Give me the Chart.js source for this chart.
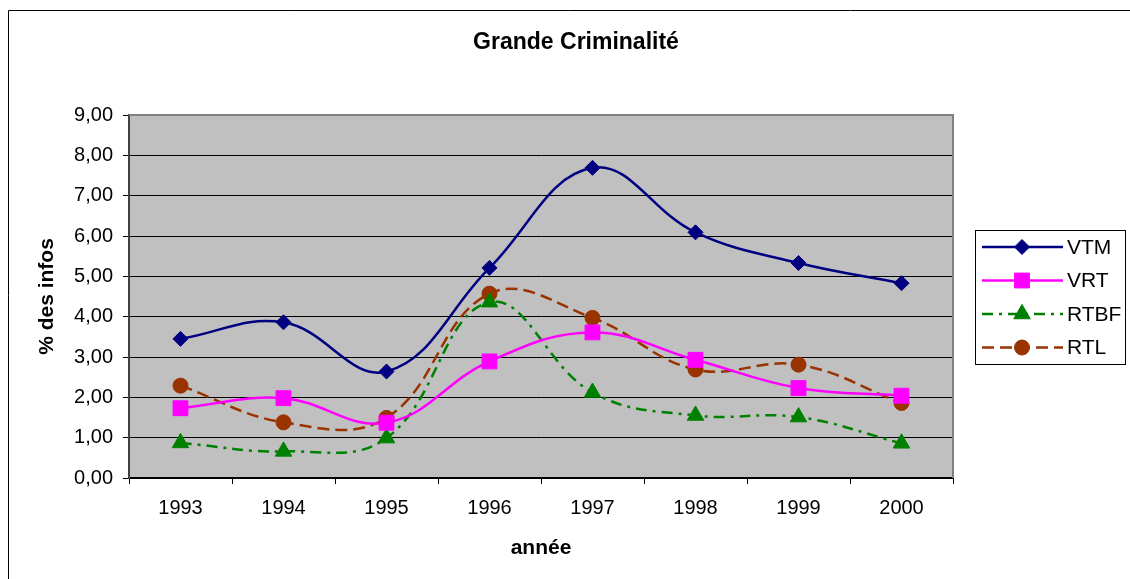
<!DOCTYPE html>
<html>
<head>
<meta charset="utf-8">
<title>Grande Criminalité</title>
<script src="https://cdn.jsdelivr.net/npm/chart.js@4/dist/chart.umd.min.js"></script>
<style>
  html, body { margin: 0; padding: 0; background: #fff; }
  #wrap { position: relative; width: 1130px; height: 579px; }
</style>
</head>
<body>
<div id="wrap"><canvas id="chart" width="1130" height="579"></canvas></div>
<script>
// data
const years = ['1993', '1994', '1995', '1996', '1997', '1998', '1999', '2000'];
const vtm  = [3.45, 3.86, 2.64, 5.21, 7.69, 6.09, 5.33, 4.83];
const vrt  = [1.73, 1.98, 1.37, 2.89, 3.61, 2.93, 2.23, 2.04];
const rtbf = [0.87, 0.66, 0.99, 4.36, 2.12, 1.55, 1.51, 0.86];
const rtl  = [2.29, 1.38, 1.49, 4.57, 3.97, 2.69, 2.81, 1.86];
const yTicks = [0, 1, 2, 3, 4, 5, 6, 7, 8, 9];

const FONT = '"Liberation Sans", Arial, sans-serif';

const series = [
  { label: 'VTM',  data: vtm,  color: '#000080', style: 'rectRot',  radius: 7.5,  dash: [] },
  { label: 'VRT',  data: vrt,  color: '#FF00FF', style: 'rect',     radius: 10.5, dash: [] },
  { label: 'RTBF', data: rtbf, color: '#008000', style: 'triangle', radius: 9.5,  dash: [11, 6, 3, 6] },
  { label: 'RTL',  data: rtl,  color: '#993300', style: 'circle',   radius: 7.5,  dash: [12, 6] }
];

// grey plot area, its border, the outer frame, title and legend
const excelLook = {
  id: 'excelLook',
  beforeDraw(chart) {
    const { ctx, chartArea: a } = chart;
    ctx.save();
    ctx.fillStyle = '#C0C0C0';
    ctx.fillRect(a.left, a.top, a.right - a.left, a.bottom - a.top);
    ctx.restore();
  },
  beforeDatasetsDraw(chart) {
    const { ctx, chartArea: a } = chart;
    ctx.save();
    ctx.strokeStyle = '#808080';
    ctx.lineWidth = 2;
    ctx.beginPath();
    ctx.moveTo(a.left, a.top);
    ctx.lineTo(a.right, a.top);
    ctx.lineTo(a.right, a.bottom);
    ctx.stroke();
    ctx.restore();
  },
  afterDraw(chart) {
    const ctx = chart.ctx;
    ctx.save();
    // outer frame
    ctx.strokeStyle = '#000';
    ctx.lineWidth = 1;
    ctx.beginPath();
    ctx.moveTo(8.5, 600);
    ctx.lineTo(8.5, 10.5);
    ctx.lineTo(1140, 10.5);
    ctx.stroke();

    // title
    ctx.fillStyle = '#000';
    ctx.font = 'bold 23px ' + FONT;
    ctx.textAlign = 'center';
    ctx.textBaseline = 'middle';
    ctx.fillText('Grande Criminalité', 576, 43);

    // legend
    ctx.strokeStyle = '#000';
    ctx.strokeRect(975.5, 230.5, 150, 134);
    ctx.font = '21px ' + FONT;
    ctx.textAlign = 'left';
    series.forEach((s, i) => {
      const y = 247 + i * 33.5;
      ctx.strokeStyle = s.color;
      ctx.lineWidth = 2.5;
      ctx.setLineDash(s.dash);
      ctx.beginPath();
      ctx.moveTo(982, y);
      ctx.lineTo(1063, y);
      ctx.stroke();
      ctx.setLineDash([]);
      ctx.fillStyle = s.color;
      ctx.lineWidth = 1;
      Chart.helpers.drawPoint(ctx, { pointStyle: s.style, radius: s.radius, rotation: 0, borderWidth: 1 }, 1022, y);
      ctx.fillStyle = '#000';
      ctx.fillText(s.label, 1067, y + 1);
    });
    ctx.restore();
  }
};

new Chart(document.getElementById('chart'), {
  type: 'line',
  data: {
    labels: years,
    datasets: series.map(s => ({
      label: s.label,
      data: s.data,
      borderColor: s.color,
      backgroundColor: s.color,
      borderWidth: 2.5,
      borderDash: s.dash,
      tension: 0.4,
      fill: false,
      pointStyle: s.style,
      pointRadius: s.radius,
      pointBorderWidth: 1,
      pointBackgroundColor: s.color,
      pointBorderColor: s.color
    }))
  },
  options: {
    responsive: false,
    animation: false,
    layout: { padding: { left: 0, top: 115, right: 177, bottom: 0 } },
    plugins: {
      legend: { display: false },
      title: { display: false },
      tooltip: { enabled: false }
    },
    scales: {
      x: {
        type: 'category',
        offset: true,
        afterFit: s => { s.height = 101; },
        grid: { offset: true, drawOnChartArea: false, drawTicks: true, tickLength: 6, color: '#000' },
        border: { color: '#000', width: 2 },
        ticks: { color: '#000', padding: 12, font: { family: FONT, size: 20 }, maxRotation: 0 },
        title: { display: true, text: 'année', color: '#000', font: { family: FONT, size: 21, weight: 'bold' }, padding: { top: 0, bottom: 18 } }
      },
      y: {
        min: 0,
        max: 9,
        afterFit: s => { s.width = 129; },
        afterBuildTicks: s => { s.ticks = yTicks.map(v => ({ value: v })); },
        grid: { color: '#000', lineWidth: 1, tickLength: 6, drawTicks: true },
        border: { color: '#404040', width: 2 },
        ticks: {
          color: '#000',
          padding: 10,
          font: { family: FONT, size: 20 },
          callback: v => v.toFixed(2).replace('.', ',')
        },
        title: { display: true, text: '% des infos', color: '#000', font: { family: FONT, size: 21, weight: 'bold' }, padding: { top: 35, bottom: 0 } }
      }
    }
  },
  plugins: [excelLook]
});
</script>
</body>
</html>
